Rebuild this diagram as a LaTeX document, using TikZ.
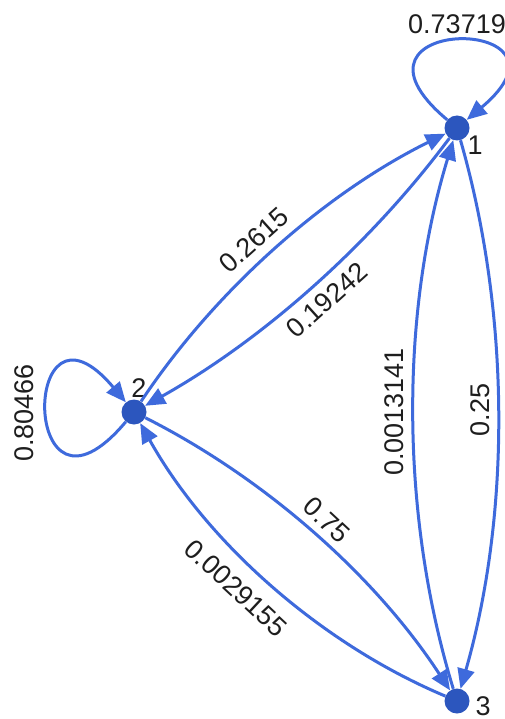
\documentclass[tikz,border=0pt]{standalone}
\usepackage{fontspec}
\setmainfont{Liberation Sans}
\usetikzlibrary{arrows.meta}
\definecolor{edgeblue}{RGB}{62,106,220}
\definecolor{nodeblue}{RGB}{44,86,190}
\definecolor{labelgray}{RGB}{30,30,30}

\begin{document}
\begin{tikzpicture}[x=1pt,y=1pt,
  vertex/.style={circle,fill=nodeblue,inner sep=0pt,minimum size=25pt},
  edge/.style={draw=edgeblue,line width=3pt,
    -{Triangle[length=20pt,width=17pt]},looseness=0.85},
  wlabel/.style={text=labelgray,inner sep=0pt,font=\fontsize{27}{30}\selectfont}]
\path[fill=white] (0,0) rectangle (505,-719);
\useasboundingbox (0,0) rectangle (505,-719);

% vertices
\node[vertex] (n1) at (457,-128) {};
\node[vertex] (n2) at (134,-412) {};
\node[vertex] (n3) at (457,-701) {};

% vertex names
\node[wlabel] (t1) at (475,-145) {1};
\node[wlabel] (t2) at (139,-388) {2};
\node[wlabel] (t3) at (483,-706) {3};

% transitions between distinct states
\draw[edge] (n2) to[bend left=15] (n1);
\draw[edge] (n1) to[bend left=12] (n2);
\draw[edge] (n1) to[bend left=16] (n3);
\draw[edge] (n3) to[bend left=17] (n1);
\draw[edge] (n2) to[bend left=15] (n3);
\draw[edge] (n3) to[bend left=19] (n2);

% self loops
\draw[edge] (n1.140) .. controls +(140:165) and +(40:165) .. (n1.40);
\draw[edge] (n2.230) .. controls +(230:165) and +(130:165) .. (n2.130);

% transition weights
\node[wlabel] (w11) at (457,-24) {0.73719};
\node[wlabel,rotate=90] (w22) at (24,-413) {0.80466};
\node[wlabel,rotate=42] (w21) at (254,-240) {0.2615};
\node[wlabel,rotate=42] (w12) at (327,-300) {0.19242};
\node[wlabel,rotate=90] (w31) at (394,-412) {0.0013141};
\node[wlabel,rotate=90] (w13) at (480,-410) {0.25};
\node[wlabel,rotate=-43] (w23) at (327,-520) {0.75};
\node[wlabel,rotate=-43] (w32) at (236,-588) {0.0029155};
\end{tikzpicture}
\end{document}
